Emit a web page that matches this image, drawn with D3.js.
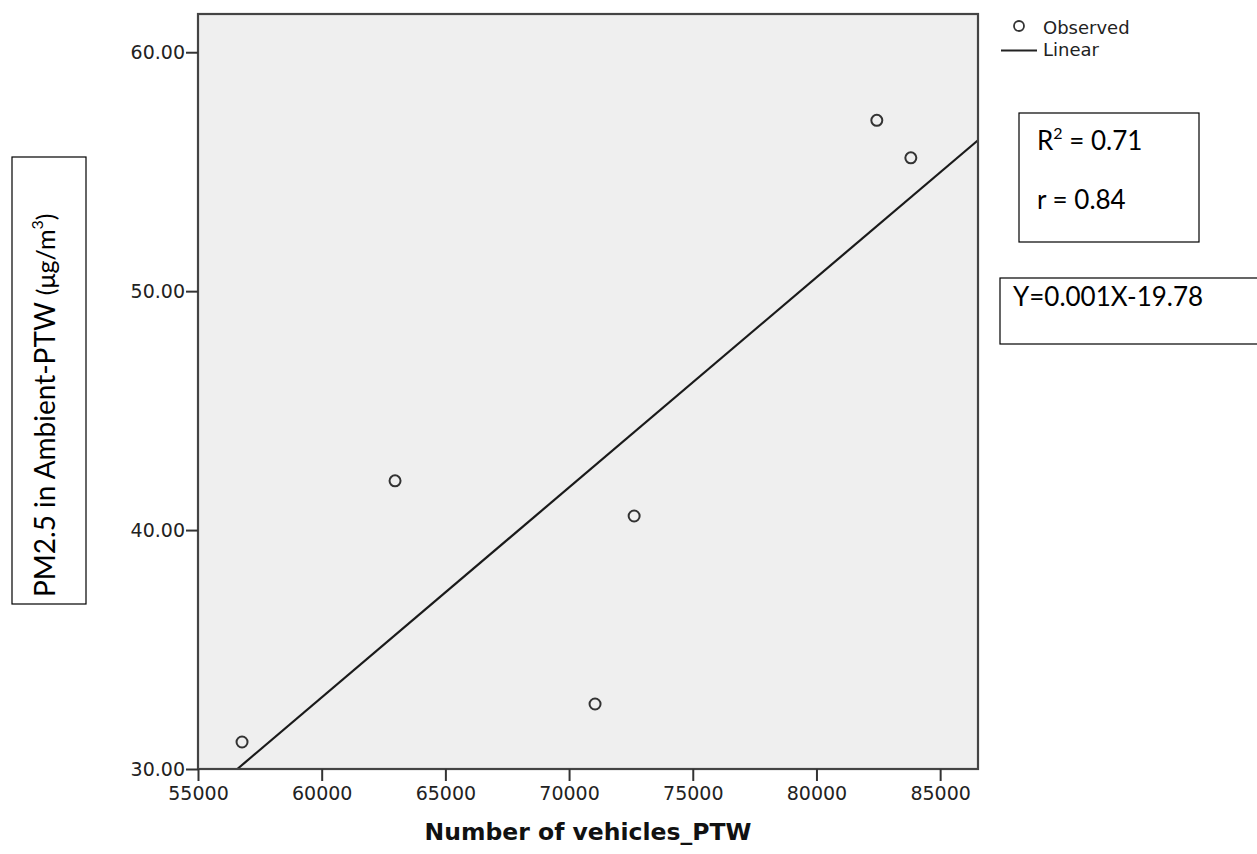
<!DOCTYPE html>
<html>
<head>
<meta charset="utf-8">
<script src="https://cdn.jsdelivr.net/npm/d3@7"></script>
<style>
  body { margin: 0; background: #fff; }
  svg { display: block; }
</style>
</head>
<body>
<div id="chart"></div>
<script>
// observed points
const vehiclesPTW = [56780, 62965, 71050, 72630, 82440, 83815];
const pm25 = [31.13, 42.06, 32.72, 40.59, 57.15, 55.58];

const xTicks = [55000, 60000, 65000, 70000, 75000, 80000, 85000];
const yTicks = [30, 40, 50, 60];

const statLines = ["R² = 0.71", "r = 0.84"];
const equationText = "Y=0.001X-19.78";

// set the dimensions and margins of the graph
const margin = {top: 14, right: 279, bottom: 85, left: 198},
    width = 1257 - margin.left - margin.right,
    height = 854 - margin.top - margin.bottom;

const svg = d3.select("#chart").append("svg")
    .attr("width", 1257)
    .attr("height", 854);

const g = svg.append("g")
    .attr("transform", "translate(" + margin.left + "," + margin.top + ")");

const x = d3.scaleLinear().domain([55000, 86530]).range([0, width]);
const y = d3.scaleLinear().domain([30, 61.6]).range([height, 0]);

// plot background
g.append("rect")
    .attr("width", width)
    .attr("height", height)
    .attr("fill", "#efefef");

// least squares line
const mx = d3.mean(vehiclesPTW), my = d3.mean(pm25);
const slope = d3.sum(vehiclesPTW, (v, i) => (v - mx) * (pm25[i] - my)) /
              d3.sum(vehiclesPTW, v => (v - mx) * (v - mx));
const intercept = my - slope * mx;
const x0 = (30 - intercept) / slope;
const x1 = x.domain()[1];

g.append("line")
    .attr("x1", x(x0)).attr("y1", y(30))
    .attr("x2", x(x1)).attr("y2", y(slope * x1 + intercept))
    .attr("stroke", "#1a1a1a")
    .attr("stroke-width", 2.2);

// points
g.selectAll("circle.obs")
  .data(vehiclesPTW)
  .join("circle")
    .attr("class", "obs")
    .attr("cx", d => x(d))
    .attr("cy", (d, i) => y(pm25[i]))
    .attr("r", 5.5)
    .attr("fill", "none")
    .attr("stroke", "#333")
    .attr("stroke-width", 2);

// frame
g.append("rect")
    .attr("width", width)
    .attr("height", height)
    .attr("fill", "none")
    .attr("stroke", "#444")
    .attr("stroke-width", 2.2);

// axes
const xAxis = g.append("g")
    .attr("transform", "translate(0," + height + ")")
    .call(d3.axisBottom(x).tickValues(xTicks).tickFormat(d3.format("d")).tickSize(12).tickPadding(6));
const yAxis = g.append("g")
    .call(d3.axisLeft(y).tickValues(yTicks).tickFormat(d3.format(".2f")).tickSize(12).tickPadding(1));

[xAxis, yAxis].forEach(a => {
  a.select(".domain").remove();
  a.selectAll(".tick line").attr("stroke", "#333").attr("stroke-width", 2);
  a.selectAll(".tick text")
    .attr("fill", "#222")
    .style("font-family", "DejaVu Sans")
    .style("font-size", "19px");
});

// x title
svg.append("text")
    .attr("x", margin.left + width / 2)
    .attr("y", 840)
    .attr("text-anchor", "middle")
    .style("font-family", "DejaVu Sans")
    .style("font-weight", "bold")
    .style("font-size", "23.5px")
    .attr("fill", "#111")
    .text("Number of vehicles_PTW");

// y title in a box
svg.append("rect")
    .attr("x", 12).attr("y", 157)
    .attr("width", 74).attr("height", 447)
    .attr("fill", "#fff").attr("stroke", "#000").attr("stroke-width", 1.2);
const yt = svg.append("text")
    .attr("transform", "translate(55,597) rotate(-90)")
    .style("font-family", "Lato")
    .style("font-size", "28px")
    .attr("fill", "#000");
yt.append("tspan").text("PM2.5 in Ambient-PTW ");
yt.append("tspan").style("font-size", "25px").text("(μg/m");
yt.append("tspan").style("font-size", "16px").attr("dy", -12).text("3");
yt.append("tspan").style("font-size", "25px").attr("dy", 12).text(")");

// legend
const leg = svg.append("g").style("font-family", "DejaVu Sans").style("font-size", "18px");
leg.append("circle").attr("cx", 1019).attr("cy", 26).attr("r", 5)
    .attr("fill", "none").attr("stroke", "#333").attr("stroke-width", 1.8);
leg.append("text").attr("x", 1043).attr("y", 34).attr("fill", "#222").text("Observed");
leg.append("line").attr("x1", 1001).attr("x2", 1037).attr("y1", 50.5).attr("y2", 50.5)
    .attr("stroke", "#222").attr("stroke-width", 2);
leg.append("text").attr("x", 1043).attr("y", 56).attr("fill", "#222").text("Linear");

// stats box
svg.append("rect")
    .attr("x", 1019).attr("y", 113).attr("width", 180).attr("height", 129)
    .attr("fill", "#fff").attr("stroke", "#000").attr("stroke-width", 1.2);
const s1 = svg.append("text").attr("x", 1037).attr("y", 150)
    .style("font-family", "Lato").style("font-size", "26px");
s1.append("tspan").text("R");
s1.append("tspan").style("font-size", "16px").attr("dy", -11).text("2");
s1.append("tspan").attr("dy", 11).text(" = 0.71");
svg.append("text").attr("x", 1037).attr("y", 209)
    .style("font-family", "Lato").style("font-size", "26px")
    .text(statLines[1]);

// equation box
svg.append("rect")
    .attr("x", 1000).attr("y", 278).attr("width", 262).attr("height", 66)
    .attr("fill", "#fff").attr("stroke", "#000").attr("stroke-width", 1.2);
svg.append("text").attr("x", 1013).attr("y", 306)
    .style("font-family", "Lato").style("font-size", "26px")
    .text(equationText);
</script>
</body>
</html>
